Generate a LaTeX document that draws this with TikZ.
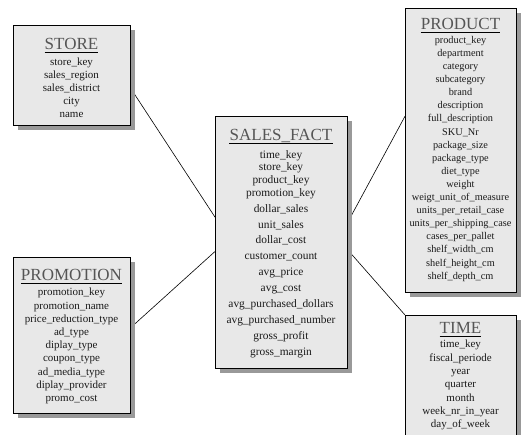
\documentclass[tikz,border=0pt]{standalone}
\usepackage{fontspec}
\setmainfont{Liberation Serif}
\usepackage{tikz}
\usetikzlibrary{positioning,calc,shadows,backgrounds}
\definecolor{TableFill}{HTML}{E8E8E8}
\definecolor{TableShadow}{HTML}{999999}
\definecolor{TitleGray}{HTML}{555555}
\definecolor{ItemBlack}{HTML}{1A1A1A}
\tikzset{
    % Table box with drop shadow
    tablebox/.style={
        draw=black,
        fill=TableFill,
        line width=0.8pt,
        anchor=north west,
        inner sep=0pt,
        drop shadow={shadow xshift=5pt, shadow yshift=-5pt, fill=TableShadow, opacity=1}
    },
    % Table name
    titlenode/.style={
        anchor=base,
        inner sep=0pt,
        text=TitleGray,
        font=\fontsize{17}{17}\selectfont
    },
    % Underline of table name
    titleline/.style={
        draw=black,
        line width=0.7pt
    },
    % Column list
    itemnode/.style={
        anchor=north,
        inner sep=0pt,
        align=center,
        text=ItemBlack,
        font=\fontsize{11}{13.1}\selectfont
    },
    % Connector between tables
    link/.style={
        draw=black,
        line width=0.6pt
    }
}
\begin{document}
\begin{tikzpicture}[x=1pt, y=-1pt]
        \useasboundingbox (0,0) rectangle (523,435);

        % Tables
        \node[tablebox, minimum width=117pt, minimum height=100pt] (store) at (13,25) {};
        \node[tablebox, minimum width=117pt, minimum height=156pt] (promotion) at (13,257) {};
        \node[tablebox, minimum width=132pt, minimum height=252pt] (salesfact) at (215,116) {};
        \node[tablebox, minimum width=111pt, minimum height=284pt] (product) at (405,8) {};
        \node[tablebox, minimum width=111pt, minimum height=140pt] (time) at (405,315) {};

        % Titles
        \node[titlenode] (storetitle) at (71.5,49.6) {STORE};
        \node[titlenode] (promotiontitle) at (71.5,280.6) {PROMOTION};
        \node[titlenode] (salesfacttitle) at (281,140.6) {SALES\_FACT};
        \node[titlenode] (producttitle) at (460.5,30) {PRODUCT};
        \node[titlenode] (timetitle) at (460.5,333.6) {TIME};

        \draw[titleline] ([yshift=-2.5pt]storetitle.base west) -- ([yshift=-2.5pt]storetitle.base east);
        \draw[titleline] ([yshift=-2.5pt]promotiontitle.base west) -- ([yshift=-2.5pt]promotiontitle.base east);
        \draw[titleline] ([yshift=-2.5pt]salesfacttitle.base west) -- ([yshift=-2.5pt]salesfacttitle.base east);
        \draw[titleline] ([yshift=-2.5pt]producttitle.base west) -- ([yshift=-2.5pt]producttitle.base east);
        \draw[titleline] ([yshift=-2.5pt]timetitle.base west) -- ([yshift=-2.5pt]timetitle.base east);

        % Columns
        \node[itemnode] (storeitems) at (71.5,57.7) {store\_key\\sales\_region\\sales\_district\\city\\name};
        \node[itemnode, font=\fontsize{11}{13.2}\selectfont] (promotionitems) at (71.5,288) {promotion\_key\\promotion\_name\\price\_reduction\_type\\ad\_type\\diplay\_type\\coupon\_type\\ad\_media\_type\\diplay\_provider\\promo\_cost};
        \node[itemnode, font=\fontsize{11.4}{12.7}\selectfont] (salesfactitems) at (281,150) {time\_key\\store\_key\\product\_key\\promotion\_key\\[3.2pt]dollar\_sales\\[3.2pt]unit\_sales\\[3.2pt]dollar\_cost\\[3.2pt]customer\_count\\[3.2pt]avg\_price\\[3.2pt]avg\_cost\\[3.2pt]avg\_purchased\_dollars\\[3.2pt]avg\_purchased\_number\\[3.2pt]gross\_profit\\[3.2pt]gross\_margin};
        \node[itemnode, font=\fontsize{10.3}{13.1}\selectfont] (productitems) at (460.5,36) {product\_key\\department\\category\\subcategory\\brand\\description\\full\_description\\SKU\_Nr\\package\_size\\package\_type\\diet\_type\\weight\\weigt\_unit\_of\_measure\\units\_per\_retail\_case\\units\_per\_shipping\_case\\cases\_per\_pallet\\shelf\_width\_cm\\shelf\_height\_cm\\shelf\_depth\_cm};
        \node[itemnode, font=\fontsize{11}{13.3}\selectfont] (timeitems) at (460.5,340) {time\_key\\fiscal\_periode\\year\\quarter\\month\\week\_nr\_in\_year\\day\_of\_week};

        % Connectors
        \begin{scope}[on background layer]
        \draw[link] ($(store.north east)!0.63!(store.south east)$) -- ($(salesfact.north west)!0.40!(salesfact.south west)$);
        \draw[link] ($(promotion.north east)!0.45!(promotion.south east)$) -- ($(salesfact.north west)!0.536!(salesfact.south west)$);
        \draw[link] ($(product.north west)!0.38!(product.south west)$) -- ($(salesfact.north east)!0.42!(salesfact.south east)$);
        \draw[link] ($(salesfact.north east)!0.53!(salesfact.south east)$) -- (time.north west);
        \end{scope}
    \end{tikzpicture}
\end{document}
